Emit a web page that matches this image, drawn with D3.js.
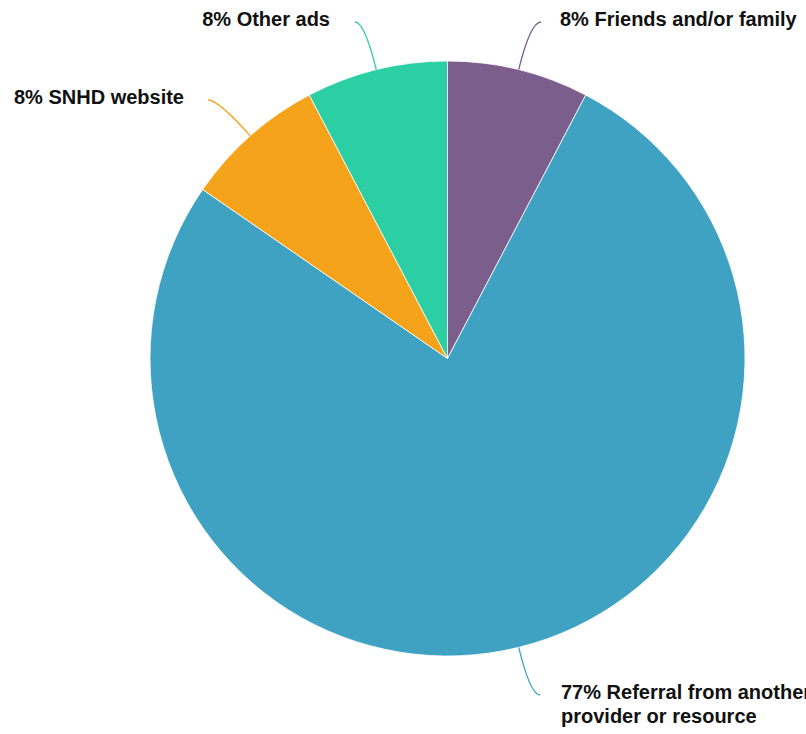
<!DOCTYPE html>
<html>
<head>
<meta charset="utf-8">
<script src="https://cdn.jsdelivr.net/npm/d3@7"></script>
<style>
html,body{margin:0;padding:0;background:#fff;overflow:hidden;}
svg{display:block;}
</style>
</head>
<body>
<svg id="chart" width="806" height="734"></svg>
<script>
const categories = ["Friends and/or family", "Referral from another provider or resource", "SNHD website", "Other ads"];
const counts = [1, 10, 1, 1];
const percentLabels = ["8%", "77%", "8%", "8%"];
const labelLines = [["8% Friends and/or family"], ["77% Referral from another", "provider or resource"], ["8% SNHD website"], ["8% Other ads"]];
const colors = ["#7b5e8c", "#3fa2c2", "#f4a31a", "#2ccea4"];

const svg = d3.select("#chart");
const cx = 447.5, cy = 358.5, r = 297.5;
const g = svg.append("g").attr("transform", `translate(${cx},${cy})`);

const pie = d3.pie().sort(null).value(d => d);
const arcs = pie(counts);
const arc = d3.arc().innerRadius(0).outerRadius(r);

g.selectAll("path.slice").data(arcs).enter().append("path")
  .attr("class", "slice")
  .attr("d", arc)
  .attr("fill", (d, i) => colors[i])
  .attr("stroke", "#fff")
  .attr("stroke-width", 0.8);

// leader-line layout (pixel positions in page coords)
const layout = [
  {ex: 541, ey: 22, tx: 560},
  {ex: 540, ey: 695, tx: 561},
  {ex: 208, ey: 100, tx: 184},
  {ex: 355, ey: 22, tx: 330}
];

arcs.forEach((d, i) => {
  const a = (d.startAngle + d.endAngle) / 2;
  const sx = r * Math.sin(a), sy = -r * Math.cos(a);
  const ex = layout[i].ex - cx, ey = layout[i].ey - cy;
  const L = ey / -Math.cos(a);
  const qx = L * Math.sin(a), qy = ey;
  const path = d3.path();
  path.moveTo(sx, sy);
  path.quadraticCurveTo(qx, qy, ex, ey);
  g.append("path").attr("d", path.toString())
    .attr("fill", "none").attr("stroke", colors[i]).attr("stroke-width", 1.3);
  const right = Math.sin(a) > 0;
  const tx = layout[i].tx - cx;
  const t = g.append("text")
    .attr("x", tx).attr("y", ey + 3.5)
    .attr("text-anchor", right ? "start" : "end")
    .attr("font-family", "'Liberation Sans', Arial, sans-serif")
    .attr("font-weight", "bold")
    .attr("font-size", 20)
    .attr("fill", "#111");
  labelLines[i].forEach((ln, k) => {
    t.append("tspan").attr("x", tx).attr("dy", k === 0 ? 0 : 24.5).text(ln);
  });
});
</script>
</body>
</html>
